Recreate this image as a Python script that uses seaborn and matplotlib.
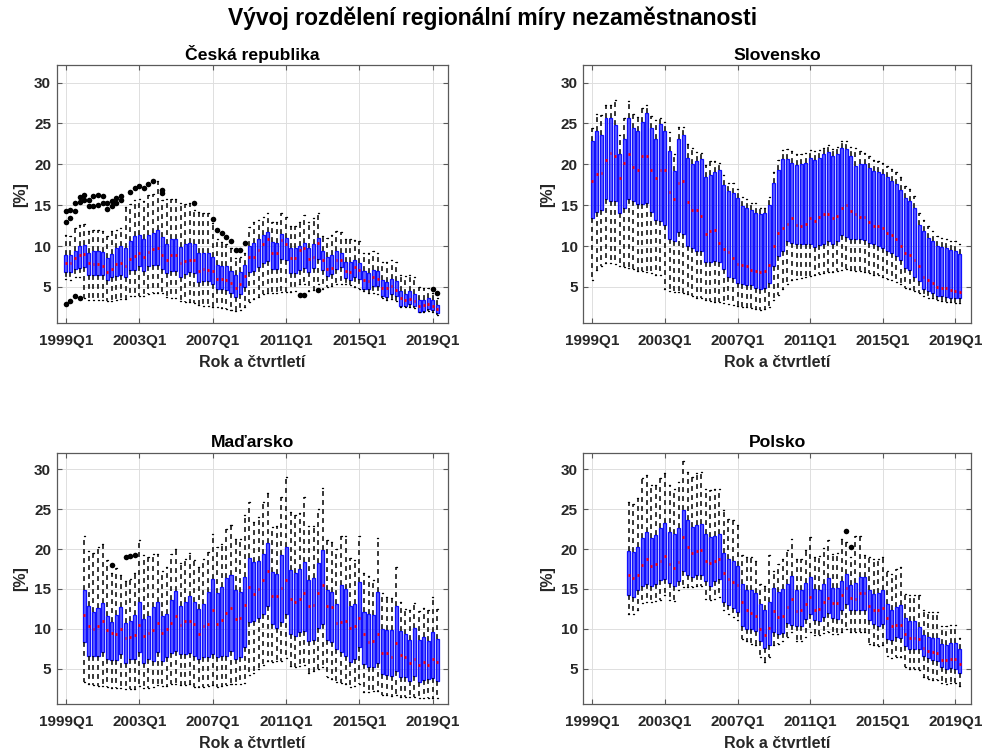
import matplotlib
matplotlib.use("Agg")
import matplotlib.pyplot as plt
import pandas as pd
import seaborn as sns

# ---------------------------------------------------------------------------
# Quarterly distribution of regional unemployment rates, 1999Q1 = quarter 0
# Each series gives, per quarter: lower whisker, Q1, median, Q3, upper whisker
# ---------------------------------------------------------------------------
tick_quarters = [0, 16, 32, 48, 64, 80]
tick_labels = ["1999Q1", "2003Q1", "2007Q1", "2011Q1", "2015Q1", "2019Q1"]

# --- Česká republika (1999Q1 - 2019Q2) ---
cz_start = 0
cz_lo = [6.0, 5.9, 6.2, 6.2, 3.65, 3.45, 3.45, 3.4, 3.35, 3.25,
         3.3, 3.4, 3.5, 3.5, 3.85, 3.9, 3.95, 3.9, 4.1, 4.2,
         4.3, 4.2, 3.8, 3.7, 3.6, 3.3, 3.2, 3.1, 3.0, 2.8,
         2.7, 2.65, 2.6, 2.5, 2.4, 2.3, 2.2, 2.1, 2.2, 2.5,
         3.2, 3.5, 3.8, 4.1, 4.3, 4.2, 4.3, 4.4, 4.4, 4.4,
         4.5, 5.3, 5.3, 4.5, 4.6, 5.3, 4.8, 5.0, 5.1, 5.3,
         5.4, 5.4, 5.2, 5.0, 4.8, 4.5, 4.3, 4.2, 4.1, 3.6,
         3.4, 3.5, 3.3, 2.6, 2.5, 2.5, 2.4, 1.9, 1.9, 2.0,
         1.9, 1.6]
cz_q1 = [6.8, 6.8, 7.2, 7.3, 7.4, 6.5, 6.5, 6.4, 6.4, 5.9,
         6.2, 6.3, 6.4, 6.2, 7.1, 7.1, 7.5, 6.9, 7.6, 7.7,
         7.7, 7.2, 6.7, 7.0, 6.9, 6.2, 6.6, 6.8, 6.7, 5.6,
         5.7, 5.7, 5.4, 4.75, 4.75, 4.6, 4.25, 3.8, 4.1, 4.95,
         6.8, 7.0, 7.4, 7.9, 8.2, 7.2, 7.2, 8.4, 8.3, 6.7,
         6.7, 7.1, 7.3, 6.8, 7.3, 8.4, 7.1, 6.3, 6.6, 7.2,
         7.4, 6.1, 5.9, 6.2, 6.0, 4.7, 4.75, 5.1, 5.1, 3.9,
         3.8, 4.1, 3.9, 2.7, 2.7, 2.9, 2.65, 1.95, 2.0, 2.25,
         2.15, 1.8]
cz_med = [7.9, 7.95, 8.5, 8.95, 9.0, 7.9, 7.85, 7.75, 7.55, 6.85,
          7.2, 7.8, 7.9, 7.6, 8.4, 8.75, 9.1, 8.65, 9.3, 9.6,
          9.8, 8.95, 8.3, 8.95, 8.9, 7.9, 8.15, 8.35, 8.3, 7.0,
          7.2, 7.1, 6.9, 6.0, 5.95, 5.8, 5.5, 4.9, 5.4, 6.3,
          8.6, 8.7, 9.5, 10.3, 10.8, 9.15, 9.15, 10.7, 10.3, 8.5,
          8.5, 9.5, 9.7, 8.4, 8.7, 10.4, 8.3, 7.2, 7.3, 8.25,
          8.25, 6.9, 6.8, 7.4, 7.1, 5.8, 5.7, 6.2, 6.0, 4.85,
          4.85, 5.15, 4.6, 3.6, 3.45, 3.55, 3.25, 2.7, 2.75, 2.9,
          2.7, 2.35]
cz_q3 = [8.95, 8.9, 9.45, 10.0, 10.1, 9.15, 9.35, 9.4, 9.25, 8.55,
         9.0, 9.8, 10.05, 9.8, 10.6, 11.25, 11.4, 10.9, 11.3, 11.6,
         11.95, 11.1, 10.3, 10.9, 10.8, 9.85, 10.2, 10.4, 10.3, 9.1,
         9.1, 9.1, 8.6, 7.7, 7.6, 7.5, 7.0, 6.4, 6.8, 7.7,
         10.0, 10.4, 10.8, 11.4, 11.7, 10.55, 10.35, 11.5, 11.0, 9.75,
         9.75, 10.0, 10.4, 9.75, 10.2, 11.0, 9.35, 8.65, 8.9, 9.35,
         9.2, 8.1, 8.05, 8.3, 7.9, 6.9, 6.7, 7.1, 6.9, 5.9,
         5.6, 6.0, 5.7, 4.5, 4.15, 4.5, 4.15, 3.35, 3.35, 3.6,
         3.45, 2.75]
cz_hi = [11.4, 11.2, 12.2, 12.6, 12.7, 11.8, 12.0, 12.0, 11.9, 11.2,
         11.8, 12.0, 12.2, 14.8, 15.2, 15.6, 15.8, 15.5, 16.2, 16.4,
         17.9, 15.6, 15.7, 15.75, 15.7, 15.3, 15.1, 15.3, 14.4, 14.2,
         14.0, 14.0, 12.8, 10.8, 10.5, 10.3, 9.7, 8.5, 8.6, 9.1,
         12.3, 12.9, 13.2, 13.6, 14.1, 13.0, 13.0, 14.0, 13.6, 12.4,
         12.5, 13.0, 13.8, 13.0, 13.4, 14.1, 11.2, 11.0, 11.4, 11.9,
         11.7, 10.9, 10.8, 10.7, 10.6, 9.2, 9.2, 9.4, 9.2, 8.1,
         8.1, 8.3, 8.1, 6.5, 6.3, 6.5, 6.2, 5.0, 4.9, 4.9,
         4.2, 3.6]
cz_out_q = [0, 0, 0, 1, 1, 1, 2, 2, 2, 3, 3, 3, 4, 4, 5, 5, 6, 6, 7, 7,
            8, 8, 9, 9, 10, 10, 11, 11, 12, 12, 14, 15, 16, 17, 18, 19,
            21, 21, 28, 32, 33, 34, 35, 36, 37, 38, 39, 51, 52, 55, 80, 81]
cz_out_v = [14.25, 13.0, 2.95, 14.45, 13.45, 3.25, 15.25, 14.25, 3.85,
            16.0, 15.35, 3.65, 16.3, 15.65, 15.65, 14.85, 16.1, 14.95,
            16.3, 15.05, 16.1, 15.25, 15.25, 14.5, 15.45, 14.85, 15.85,
            15.25, 16.15, 15.65, 16.55, 17.1, 17.4, 17.05, 17.6, 17.95,
            16.9, 16.5, 15.3, 13.3, 12.0, 11.6, 11.1, 10.6, 9.5, 9.5,
            10.4, 4.05, 4.05, 4.6, 4.75, 4.3]

# --- Slovensko (1999Q1 - 2019Q2) ---
sk_start = 0
sk_lo = [5.9, 7.1, 7.6, 7.9, 7.9, 7.8, 7.6, 7.4, 7.3, 7.2,
         7.0, 6.9, 6.8, 6.7, 6.5, 6.4, 4.7, 4.5, 4.4, 4.4,
         4.3, 4.1, 3.9, 3.7, 3.6, 3.4, 3.3, 3.2, 3.1, 3.0,
         2.9, 2.8, 2.7, 2.6, 2.5, 2.4, 2.35, 2.2, 2.3, 2.6,
         3.4, 4.0, 4.8, 5.4, 5.8, 6.0, 6.1, 6.2, 6.3, 6.4,
         6.6, 6.7, 6.8, 6.8, 7.0, 7.1, 7.2, 7.1, 7.0, 6.9,
         6.8, 6.7, 6.5, 6.4, 6.2, 6.0, 5.8, 5.6, 5.3, 4.9,
         4.7, 4.5, 4.2, 3.9, 3.7, 3.6, 3.4, 3.3, 3.2, 3.1,
         3.0, 3.0]
sk_q1 = [13.4, 14.2, 14.4, 15.7, 15.5, 15.5, 14.0, 14.7, 15.8, 15.5,
         15.1, 15.1, 15.25, 14.2, 13.2, 13.1, 12.6, 10.8, 10.6, 11.7,
         11.5, 10.0, 9.7, 9.4, 9.4, 8.1, 8.1, 8.2, 8.1, 7.2,
         6.2, 6.1, 5.5, 5.3, 5.2, 5.2, 4.9, 4.7, 4.9, 5.5,
         7.5, 8.8, 9.4, 10.6, 10.4, 10.2, 10.25, 10.2, 10.2, 9.85,
         10.1, 10.25, 10.6, 10.2, 10.6, 11.3, 11.1, 10.9, 10.8, 10.9,
         10.7, 10.4, 10.2, 10.0, 9.8, 9.4, 9.15, 8.75, 8.3, 7.3,
         7.1, 6.2, 5.7, 4.8, 4.5, 4.3, 3.9, 3.9, 3.75, 3.6,
         3.6, 3.6]
sk_med = [17.9, 18.85, 18.9, 20.5, 21.4, 21.0, 18.3, 20.2, 21.2, 19.7,
          19.3, 21.0, 21.0, 19.25, 18.3, 19.3, 19.3, 16.6, 15.8, 17.7,
          17.9, 15.35, 14.4, 14.45, 13.65, 11.5, 11.9, 12.0, 10.4, 9.65,
          9.3, 8.55, 7.85, 7.7, 7.5, 7.1, 6.9, 6.8, 6.95, 7.7,
          10.0, 11.6, 12.2, 12.7, 13.4, 12.6, 12.5, 12.7, 13.4, 13.1,
          13.5, 13.9, 13.9, 13.4, 13.7, 14.6, 15.0, 14.3, 13.9, 13.6,
          13.5, 12.9, 12.5, 12.5, 12.2, 11.55, 11.4, 10.8, 10.0, 9.1,
          8.9, 8.3, 7.5, 6.2, 5.9, 5.5, 5.0, 4.9, 4.9, 4.6,
          4.5, 4.4]
sk_q3 = [22.9, 24.1, 23.6, 25.7, 25.6, 24.75, 21.2, 23.1, 25.6, 24.4,
         24.1, 25.2, 26.25, 24.4, 23.1, 24.9, 24.1, 21.6, 19.2, 23.1,
         23.6, 20.8, 20.0, 20.4, 20.7, 18.4, 18.7, 19.05, 19.3, 17.5,
         16.7, 16.5, 15.9, 14.85, 14.7, 14.45, 14.0, 13.9, 14.0, 15.05,
         17.7, 19.3, 20.6, 20.7, 20.2, 19.9, 20.0, 20.1, 20.8, 20.55,
         20.8, 21.2, 21.5, 21.0, 21.25, 22.05, 21.9, 21.0, 19.8, 20.0,
         20.05, 19.6, 19.2, 19.1, 18.8, 18.4, 18.0, 17.6, 16.9, 15.9,
         15.5, 14.6, 12.6, 11.8, 11.0, 10.6, 10.0, 9.85, 9.75, 9.55,
         9.4, 9.0]
sk_hi = [24.4, 26.2, 26.0, 27.3, 27.3, 27.9, 23.6, 25.6, 27.7, 26.2,
         25.8, 26.9, 27.3, 25.9, 25.4, 25.6, 25.2, 24.0, 21.2, 24.6,
         24.6, 22.5, 22.0, 21.5, 21.4, 19.9, 20.4, 20.4, 20.1, 18.7,
         17.7, 17.7, 17.0, 16.0, 15.7, 15.3, 15.3, 14.7, 14.7, 16.0,
         19.0, 20.5, 21.8, 21.9, 21.6, 21.2, 21.3, 21.4, 21.8, 21.6,
         21.8, 22.0, 22.3, 21.9, 22.1, 22.9, 22.9, 22.1, 22.0, 21.6,
         21.4, 21.0, 20.5, 20.4, 20.1, 19.8, 19.4, 19.1, 18.4, 17.3,
         17.0, 16.1, 14.0, 13.2, 12.4, 11.9, 11.2, 11.0, 10.9, 10.6,
         10.6, 10.3]
sk_out_q = []
sk_out_v = []

# --- Maďarsko (2000Q1 - 2019Q2) ---
hu_start = 4
hu_lo = [3.3, 3.0, 2.9, 2.8, 2.8, 2.7, 2.6, 2.5, 2.5, 2.4,
         2.4, 2.4, 2.8, 2.6, 2.6, 2.7, 2.9, 2.8, 2.8, 3.0,
         3.1, 2.9, 2.9, 3.0, 2.7, 2.7, 2.7, 2.8, 2.9, 2.7,
         2.8, 2.9, 3.0, 3.0, 3.0, 3.2, 4.2, 4.5, 4.9, 5.4,
         5.9, 5.8, 5.9, 6.0, 6.3, 5.3, 5.2, 5.3, 5.5, 4.5,
         4.7, 4.9, 5.2, 3.9, 3.7, 3.3, 3.2, 3.0, 2.7, 2.8,
         3.0, 2.1, 2.1, 2.2, 2.2, 1.7, 1.7, 1.6, 1.7, 1.4,
         1.4, 1.4, 1.4, 1.3, 1.3, 1.3, 1.3, 1.3]
hu_q1 = [8.3, 6.55, 6.6, 6.6, 7.05, 6.2, 6.1, 6.1, 6.8, 5.7,
         6.2, 6.2, 7.05, 5.7, 6.2, 6.0, 7.05, 5.9, 6.4, 6.9,
         7.25, 6.8, 6.85, 6.9, 6.6, 6.2, 6.4, 6.4, 6.85, 6.4,
         6.6, 6.6, 7.2, 6.2, 6.4, 7.7, 10.8, 11.0, 11.4, 11.85,
         12.9, 10.55, 10.05, 10.9, 11.8, 9.4, 9.1, 9.6, 9.75, 8.4,
         8.6, 10.1, 10.65, 8.55, 8.3, 7.4, 7.05, 6.6, 5.85, 6.2,
         7.7, 5.6, 5.2, 5.2, 5.7, 4.3, 4.2, 4.1, 4.75, 3.9,
         3.9, 3.45, 4.05, 3.35, 3.6, 3.65, 3.8, 3.4]
hu_med = [11.7, 10.3, 10.0, 10.3, 10.95, 9.8, 9.45, 9.3, 10.0, 8.8,
          8.9, 9.2, 10.45, 9.1, 9.45, 9.9, 10.75, 9.5, 10.0, 10.75,
          11.55, 10.45, 10.95, 10.95, 10.6, 9.3, 10.3, 10.6, 12.4, 10.55,
          11.1, 12.0, 12.6, 11.25, 11.4, 13.0, 15.3, 14.4, 15.0, 16.15,
          17.2, 14.05, 14.05, 15.15, 16.15, 13.7, 13.3, 13.75, 14.45, 12.8,
          13.0, 14.5, 15.55, 12.9, 12.7, 10.7, 10.9, 11.0, 10.1, 10.3,
          11.3, 9.3, 8.3, 8.45, 9.4, 7.0, 6.95, 6.5, 8.2, 6.7,
          6.4, 5.75, 6.2, 5.4, 5.85, 5.5, 6.2, 5.8]
hu_q3 = [14.9, 12.9, 12.1, 12.6, 13.2, 11.6, 10.8, 11.7, 12.7, 10.7,
         11.0, 11.7, 13.3, 11.2, 11.6, 12.7, 13.3, 11.6, 11.9, 13.55,
         14.75, 12.9, 13.35, 14.05, 13.4, 12.5, 13.1, 14.6, 16.3, 14.5,
         15.2, 16.4, 16.8, 14.8, 14.6, 16.5, 18.9, 18.4, 18.55, 19.4,
         20.7, 17.1, 16.9, 19.3, 20.3, 17.4, 17.0, 17.5, 18.4, 16.15,
         16.35, 18.25, 19.85, 14.8, 14.6, 13.05, 15.5, 15.0, 12.85, 13.1,
         15.85, 12.1, 11.8, 11.75, 14.65, 10.0, 9.8, 9.8, 12.8, 9.7,
         9.3, 8.6, 10.1, 8.6, 8.9, 8.45, 9.65, 8.7]
hu_hi = [21.6, 19.7, 19.5, 20.3, 20.6, 18.6, 17.0, 17.6, 16.8, 16.0,
         16.3, 17.0, 21.1, 19.2, 19.0, 19.4, 19.4, 17.2, 17.7, 19.4,
         20.0, 18.3, 18.7, 19.5, 18.6, 17.8, 18.7, 19.6, 21.9, 20.3,
         20.6, 22.5, 23.0, 21.3, 21.3, 24.3, 25.9, 23.4, 24.0, 25.9,
         27.0, 22.8, 22.9, 26.6, 29.1, 24.7, 24.3, 24.5, 26.5, 22.9,
         22.9, 25.0, 27.7, 21.2, 20.9, 20.0, 21.6, 21.7, 18.9, 18.6,
         21.7, 17.0, 16.6, 16.1, 21.4, 14.5, 14.0, 13.9, 17.8, 13.4,
         12.5, 12.4, 13.2, 12.2, 12.6, 12.4, 14.0, 12.5]
hu_out_q = [10, 13, 14, 15]
hu_out_v = [18.0, 19.0, 19.1, 19.2]

# --- Polsko (2001Q1 - 2019Q2) ---
pl_start = 8
pl_lo = [11.8, 11.8, 12.4, 13.2, 13.35, 13.35, 13.5, 13.55, 14.2, 13.55,
         13.5, 14.8, 15.2, 15.2, 15.3, 15.4, 15.4, 13.75, 13.55, 13.75,
         14.0, 12.4, 11.9, 11.45, 11.05, 8.7, 8.5, 8.1, 7.9, 6.4,
         5.8, 6.5, 7.9, 8.1, 8.4, 8.95, 9.6, 8.5, 8.5, 9.0,
         9.6, 9.15, 9.15, 9.45, 9.6, 9.3, 9.3, 9.6, 10.0, 9.6,
         9.6, 9.6, 9.6, 8.1, 7.9, 7.8, 7.9, 6.6, 6.35, 6.4,
         6.4, 5.15, 4.95, 4.95, 4.85, 3.9, 3.7, 3.6, 3.6, 3.15,
         3.05, 3.15, 3.15, 2.75]
pl_q1 = [14.2, 14.0, 14.8, 15.4, 15.6, 15.35, 15.65, 16.1, 16.3, 15.8,
         15.35, 15.95, 17.2, 16.7, 16.5, 16.7, 16.8, 15.95, 15.4, 15.95,
         16.2, 13.4, 13.0, 12.6, 12.1, 10.4, 10.0, 10.0, 9.7, 8.5,
         7.55, 8.0, 9.65, 9.35, 9.5, 10.7, 10.5, 10.4, 10.3, 11.25,
         11.9, 11.15, 11.0, 11.45, 12.0, 11.3, 11.25, 12.4, 13.1, 12.3,
         12.3, 12.4, 12.4, 11.15, 10.6, 10.3, 10.6, 8.7, 8.6, 8.95,
         8.8, 7.8, 7.5, 7.4, 7.4, 6.6, 6.3, 6.1, 6.0, 5.2,
         4.95, 5.1, 4.95, 4.5]
pl_med = [16.7, 16.4, 16.7, 18.0, 18.7, 17.9, 18.1, 18.5, 19.1, 18.1,
          17.65, 18.4, 21.5, 20.2, 19.5, 19.7, 19.9, 18.45, 18.2, 18.5,
          18.8, 17.0, 16.2, 15.9, 15.45, 13.3, 12.3, 11.95, 11.65, 10.0,
          9.15, 10.1, 12.2, 11.45, 11.6, 12.7, 13.7, 12.2, 12.4, 13.1,
          14.0, 12.4, 12.5, 13.35, 13.9, 13.25, 13.2, 14.2, 15.15, 13.85,
          13.75, 14.5, 14.5, 12.9, 12.3, 12.4, 12.6, 11.3, 10.4, 10.5,
          10.5, 9.3, 8.8, 8.85, 8.65, 7.6, 7.25, 7.05, 6.95, 6.1,
          6.1, 6.2, 6.2, 5.6]
pl_q3 = [19.75, 19.6, 20.3, 21.4, 22.2, 21.4, 21.8, 22.65, 23.3, 22.2,
         21.9, 22.7, 24.9, 23.6, 22.8, 23.0, 23.2, 21.85, 21.5, 21.7,
         21.9, 19.55, 18.7, 18.5, 17.9, 15.65, 14.8, 14.8, 14.5, 13.1,
         12.4, 13.35, 15.1, 14.6, 14.95, 15.65, 16.6, 14.8, 14.8, 15.8,
         16.5, 14.95, 14.8, 15.65, 16.4, 15.1, 15.1, 16.05, 16.9, 15.5,
         15.8, 16.5, 16.5, 14.8, 14.4, 14.5, 14.8, 13.1, 12.4, 12.7,
         13.0, 11.3, 10.95, 10.95, 10.2, 9.25, 8.95, 8.8, 8.8, 8.1,
         7.9, 8.2, 8.2, 7.5]
pl_hi = [25.9, 25.6, 26.35, 28.9, 29.3, 28.0, 28.0, 28.9, 29.5, 28.0,
         27.6, 28.4, 31.1, 29.7, 29.1, 29.5, 29.7, 27.6, 27.4, 27.6,
         27.6, 24.9, 23.8, 23.7, 23.0, 19.2, 19.0, 19.0, 18.5, 15.65,
         15.4, 19.2, 17.3, 18.1, 18.8, 19.85, 21.3, 18.8, 18.7, 19.9,
         21.5, 19.0, 19.1, 20.1, 21.1, 19.4, 19.5, 21.3, 20.9, 19.0,
         21.7, 21.7, 19.2, 19.0, 18.8, 18.8, 19.0, 17.3, 16.9, 17.5,
         17.75, 14.3, 14.2, 14.2, 14.2, 12.3, 12.1, 12.1, 12.1, 10.4,
         10.4, 10.5, 10.5, 8.8]
pl_out_q = [56, 57]
pl_out_v = [22.3, 20.2]

panels = [
    ("Česká republika", cz_start, cz_lo, cz_q1, cz_med, cz_q3, cz_hi, cz_out_q, cz_out_v),
    ("Slovensko", sk_start, sk_lo, sk_q1, sk_med, sk_q3, sk_hi, sk_out_q, sk_out_v),
    ("Maďarsko", hu_start, hu_lo, hu_q1, hu_med, hu_q3, hu_hi, hu_out_q, hu_out_v),
    ("Polsko", pl_start, pl_lo, pl_q1, pl_med, pl_q3, pl_hi, pl_out_q, pl_out_v),
]

# ---------------------------------------------------------------------------
sns.set_theme(style="whitegrid")
plt.rcParams["font.family"] = ["Liberation Sans", "DejaVu Sans"]
plt.rcParams["font.weight"] = "bold"
plt.rcParams["axes.titleweight"] = "bold"
plt.rcParams["axes.labelweight"] = "bold"

TEXT = "#262626"
AXIS = "#5a5a5a"

fig = plt.figure(figsize=(9.85, 7.51), dpi=100)
fig.patch.set_facecolor("white")

axes_boxes = [
    [0.0576, 0.5695, 0.3976, 0.3435],
    [0.5922, 0.5695, 0.3933, 0.3435],
    [0.0576, 0.0626, 0.3976, 0.3346],
    [0.5922, 0.0626, 0.3933, 0.3346],
]


def to_long(start, lo, q1, med, q3, hi):
    rows = []
    for k, five in enumerate(zip(lo, q1, med, q3, hi)):
        for v in five:
            rows.append((start + k, v))
    return pd.DataFrame(rows, columns=["quarter", "rate"])


for rect, (title, start, lo, q1, med, q3, hi, oq, ov) in zip(axes_boxes, panels):
    ax = fig.add_axes(rect)
    ax.set_facecolor("white")
    df = to_long(start, lo, q1, med, q3, hi)

    sns.boxplot(
        data=df, x="quarter", y="rate", native_scale=True,
        whis=(0, 100), width=0.66, fill=True, showfliers=False,
        color="#0000ff", linecolor="#0000ff",
        boxprops=dict(facecolor=(0.0, 0.0, 1.0, 0.62), edgecolor="#1010ff", linewidth=0.9),
        medianprops=dict(color="#ff0000", linewidth=2.0),
        whiskerprops=dict(color="black", linewidth=1.1, linestyle=(0, (3.2, 2.7))),
        capprops=dict(color="black", linewidth=1.0),
        capwidths=0.22,
        ax=ax,
    )

    # keep the red median marks short, inside the box outline
    for ln in ax.lines:
        if ln.get_color() in ("#ff0000", "red", (1.0, 0.0, 0.0, 1.0)):
            xd = ln.get_xdata()
            c = (xd[0] + xd[1]) / 2.0
            ln.set_xdata([c - 0.2, c + 0.2])
            ln.set_zorder(5)

    if oq:
        sns.scatterplot(x=oq, y=ov, color="black", s=16, linewidth=0,
                        ax=ax, zorder=4, legend=False)

    ax.set_xlim(-2.0, 83.4)
    ax.set_ylim(0.55, 32.1)
    ax.set_xticks(tick_quarters)
    ax.set_xticklabels(tick_labels)
    ax.set_yticks([5, 10, 15, 20, 25, 30])
    ax.set_yticklabels(["5", "10", "15", "20", "25", "30"])

    ax.grid(True, color="#dedede", linewidth=0.7)
    ax.set_axisbelow(True)
    for sp in ax.spines.values():
        sp.set_visible(True)
        sp.set_color(AXIS)
        sp.set_linewidth(0.9)
    ax.tick_params(axis="both", which="both", direction="in", length=3.5, width=0.8,
                   color=AXIS, top=True, right=True, bottom=True, left=True,
                   labelsize=11, labelcolor=TEXT)
    ax.tick_params(axis="x", pad=8)
    ax.tick_params(axis="y", pad=4)
    for lab in ax.get_xticklabels() + ax.get_yticklabels():
        lab.set_fontweight("bold")

    ax.set_title(title, fontsize=12.6, fontweight="bold", color="black", pad=4)
    ax.set_xlabel("Rok a čtvrtletí", fontsize=11.5, fontweight="bold", color=TEXT, labelpad=5)
    ax.set_ylabel("[%]", fontsize=11.5, fontweight="bold", color=TEXT, labelpad=4)

fig.suptitle("Vývoj rozdělení regionální míry nezaměstnanosti",
             fontsize=16.5, fontweight="bold", color="black", y=0.976, va="center")

fig.savefig("out.png", dpi=100, facecolor="white")
